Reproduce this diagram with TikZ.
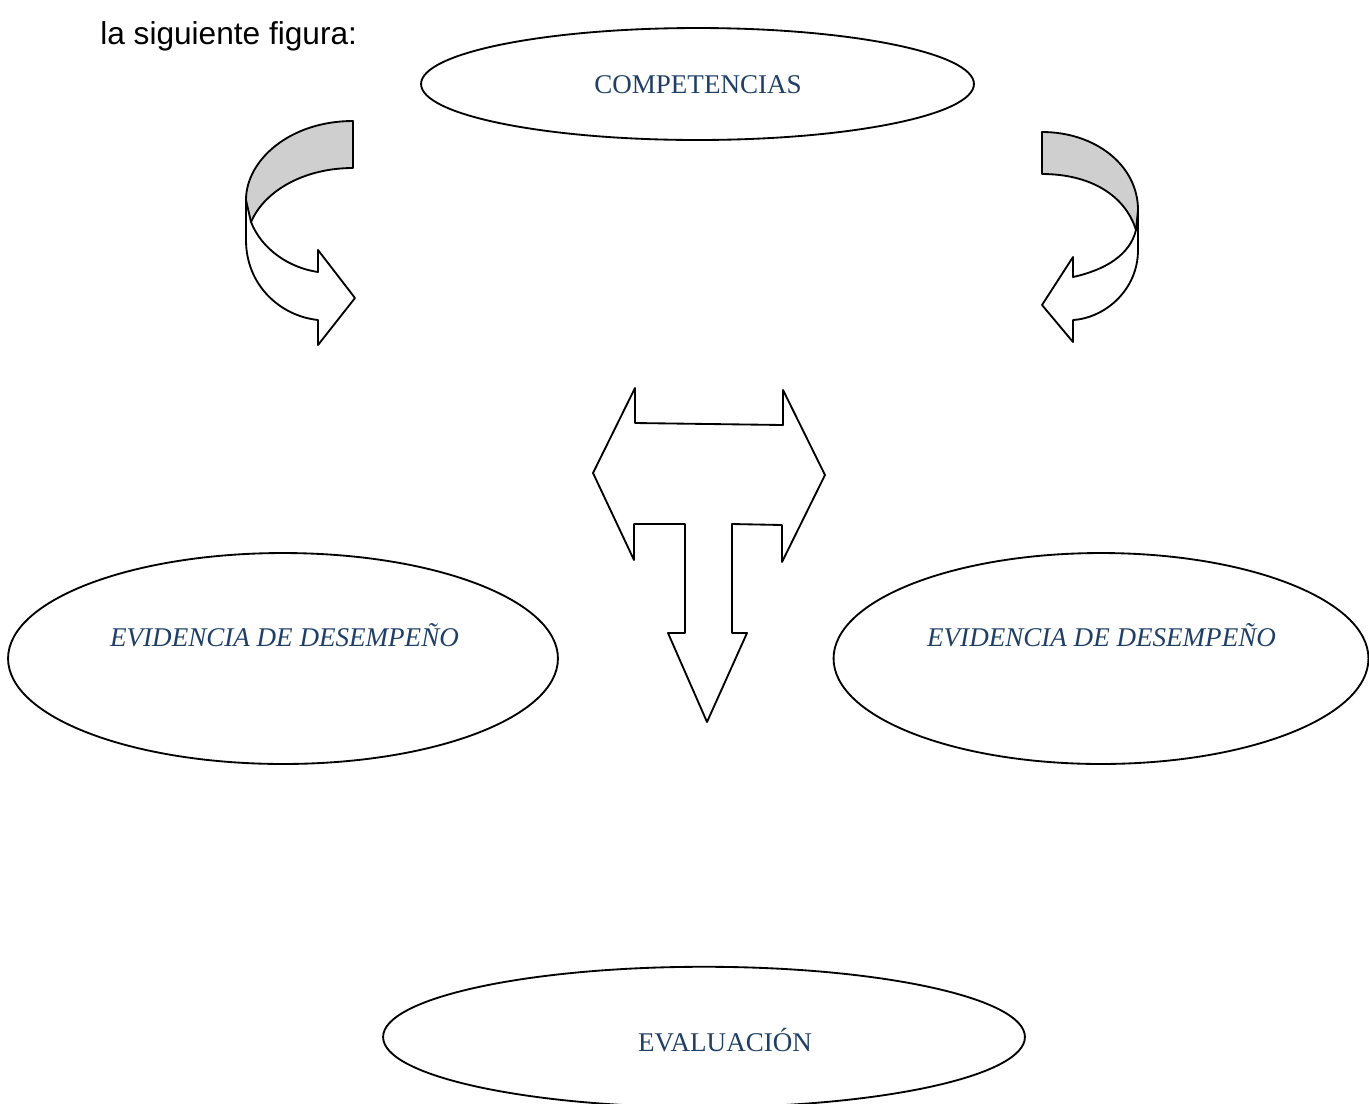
\documentclass[tikz,border=0pt]{standalone}
\usepackage{fontspec}
\setmainfont{Liberation Serif}
\newfontfamily\introsans{Liberation Sans}
\usetikzlibrary{shapes.geometric}
\definecolor{ovalblue}{HTML}{1F3F66}
\definecolor{backgray}{HTML}{CFCFCF}
\tikzset{
    oval/.style={ellipse, draw=black, line width=1.05pt, fill=white, inner sep=0pt},
    ovaltext/.style={anchor=base, inner sep=0pt, text=ovalblue, font=\fontsize{15.4}{18}\selectfont},
    ovalitext/.style={ovaltext, font=\fontsize{15.4}{18}\selectfont\itshape},
    ribbon/.style={draw=black, line width=1.05pt, line join=round},
    ribbonback/.style={ribbon, fill=backgray},
    ribbonfront/.style={ribbon, fill=white}
}

\begin{document}
\begin{tikzpicture}[x=0.02cm, y=-0.02cm]
                \clip (0,0) rectangle (1369,1103);
                \node[anchor=base west, inner sep=0pt, font=\introsans\fontsize{18}{21}\selectfont] (intro) at (100,44) {la siguiente figura:};

                \node[oval, minimum width=11.06cm, minimum height=2.24cm] (comp) at (697.5,84) {};
                \node[oval, minimum width=11.0cm, minimum height=4.22cm] (evidL) at (283,658.5) {};
                \node[oval, minimum width=10.7cm, minimum height=4.22cm] (evidR) at (1101,658.5) {};
                \node[oval, minimum width=12.84cm, minimum height=2.81cm] (eval) at (704,1037) {};

                \node[ovaltext] (compText) at (698,93) {COMPETENCIAS};
                \node[ovalitext] (evidLText) at (284.5,646) {EVIDENCIA DE DESEMPEÑO};
                \node[ovalitext] (evidRText) at (1101.5,646) {EVIDENCIA DE DESEMPEÑO};
                \node[ovaltext] (evalText) at (725,1051) {EVALUACIÓN};

                \filldraw[ribbonback] (353,121) -- (353,168) .. controls (305,168) and (265,190) .. (251,222) -- (246,214) -- (246,200) .. controls (246,160) and (290,121) .. (353,121) -- cycle;
                \filldraw[ribbonfront] (246,200) -- (246,240) .. controls (246,285) and (280,316) .. (318,320) -- (318,345) -- (355,298) -- (318,250) -- (318,272) .. controls (290,268) and (262,250) .. (251,222) -- cycle;

                \filldraw[ribbonback] (1042,132) -- (1042,174) .. controls (1090,174) and (1125,195) .. (1136,230) -- (1138,222) -- (1138,210) .. controls (1138,165) and (1095,132) .. (1042,132) -- cycle;
                \filldraw[ribbonfront] (1138,210) -- (1138,250) .. controls (1138,290) and (1105,318) .. (1073,320) -- (1073,342) -- (1042,305) -- (1073,257) -- (1073,277) .. controls (1105,270) and (1130,255) .. (1136,230) -- cycle;

                \filldraw[ribbonfront] (635,388) -- (635,423) -- (783,425) -- (783,390) -- (825,475) -- (782,562) -- (782,525) -- (732,524) -- (732,633) -- (747,633) -- (707,722) -- (668,633) -- (685,633) -- (685,524) -- (634,524) -- (634,560) -- (593,473) -- cycle;
            \end{tikzpicture}
\end{document}
